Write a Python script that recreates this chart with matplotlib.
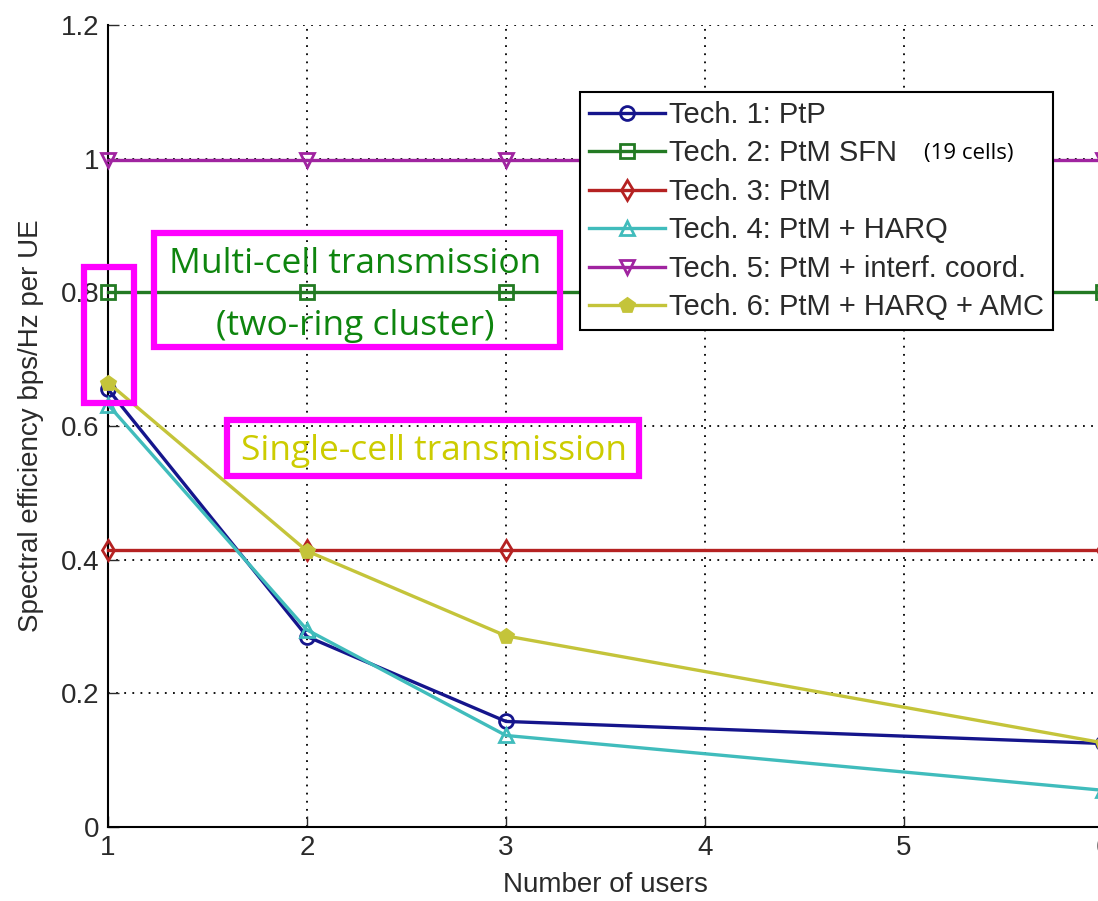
import numpy as np
import matplotlib.pyplot as plt
from matplotlib.patches import Rectangle

# number of users (no simulated points at 4 and 5)
users = [1, 2, 3, 6]

# spectral efficiency (bps/Hz per UE)
tech1 = [0.655, 0.285, 0.158, 0.125]   # PtP
tech2 = [0.80, 0.80, 0.80, 0.80]       # PtM SFN
tech3 = [0.415, 0.415, 0.415, 0.415]   # PtM
tech4 = [0.632, 0.295, 0.137, 0.055]   # PtM + HARQ
tech5 = [0.998, 0.998, 0.998, 0.998]   # PtM + interf. coord.
tech6 = [0.665, 0.413, 0.286, 0.126]   # PtM + HARQ + AMC

labels = ['Tech. 1: PtP', 'Tech. 2: PtM SFN', 'Tech. 3: PtM',
          'Tech. 4: PtM + HARQ', 'Tech. 5: PtM + interf. coord.',
          'Tech. 6: PtM + HARQ + AMC']
colors = ['#15158c', '#237a23', '#b52222', '#40bcbc', '#a024a0', '#c4c43a']
markers = ['o', 's', 'd', '^', 'v', 'p']

xticks = [1, 2, 3, 4, 5, 6]
yticks = [0, 0.2, 0.4, 0.6, 0.8, 1.0, 1.2]
ytick_labels = ['0', '0.2', '0.4', '0.6', '0.8', '1', '1.2']

plt.rcParams['font.family'] = ['Liberation Sans', 'DejaVu Sans']

fig = plt.figure(figsize=(10.98, 9.01), dpi=100)
ax = fig.add_axes([0.0984, 0.0821, 0.906, 0.8901])

series = [tech1, tech2, tech3, tech4, tech5, tech6]
for vals, lab, c, m in zip(series, labels, colors, markers):
    filled = m == 'p'
    ax.plot(users, vals, color=c, lw=2.4, marker=m, markersize=10,
            markerfacecolor=c if filled else 'none', markeredgewidth=2,
            label=lab, clip_on=False, zorder=3)

ax.set_xlim(1, 6)
ax.set_ylim(0, 1.2)
ax.set_xticks(xticks)
ax.set_yticks(yticks)
ax.set_yticklabels(ytick_labels)
ax.tick_params(direction='in', length=8, width=1, labelsize=20, colors='#2a2a2a', pad=6)
ax.grid(True, linestyle=(0, (1, 3.5)), color='black', lw=1.3)
ax.spines['top'].set_visible(False)
ax.spines['right'].set_visible(False)
ax.spines['left'].set_linewidth(1.5)
ax.spines['bottom'].set_linewidth(1.5)
ax.set_xlabel('Number of users', fontsize=20, color='#2a2a2a', labelpad=8)
ax.set_ylabel('Spectral efficiency bps/Hz per UE', fontsize=20, color='#2a2a2a', labelpad=12)

leg = ax.legend(loc='upper left', bbox_to_anchor=(580 / 1098, 1 - 92 / 901),
                bbox_transform=fig.transFigure, borderaxespad=0, fontsize=21,
                handlelength=2.6, handletextpad=0.15, labelspacing=0.36,
                borderpad=0.3, fancybox=False, framealpha=1, edgecolor='black')
leg.get_frame().set_linewidth(1.5)
leg.set_zorder(5)
for t in leg.get_texts():
    t.set_color('#2a2a2a')

fig.text(924 / 1098, 1 - 153 / 901, '(19 cells)', fontsize=16, family='Open Sans',
         va='center', ha='left', color='black', zorder=6)

# magenta highlight boxes (data coordinates)
boxes = [(0.88, 0.634, 0.25, 0.204),
         (1.23, 0.718, 2.04, 0.171),
         (1.60, 0.525, 2.07, 0.084)]
for x0, y0, w, h in boxes:
    ax.add_patch(Rectangle((x0, y0), w, h, fill=False, edgecolor='#ff00ff',
                           lw=4.5, clip_on=False, zorder=4))

ax.text(2.24, 0.843, 'Multi-cell transmission', fontsize=25.5, family='Open Sans',
        color='#0e850e', ha='center', va='center', zorder=4)
ax.text(2.24, 0.750, '(two-ring cluster)', fontsize=25.5, family='Open Sans',
        color='#0e850e', ha='center', va='center', zorder=4)
ax.text(2.64, 0.563, 'Single-cell transmission', fontsize=25.5, family='Open Sans',
        color='#cccc00', ha='center', va='center', zorder=4)

fig.savefig('out.png', dpi=100)
